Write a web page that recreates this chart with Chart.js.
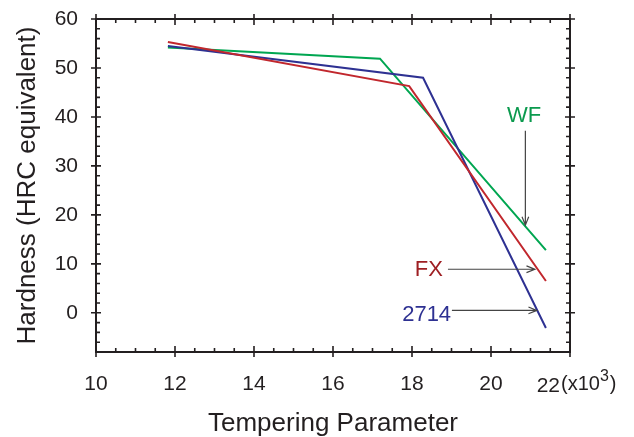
<!DOCTYPE html>
<html>
<head>
<meta charset="utf-8">
<script src="https://cdn.jsdelivr.net/npm/chart.js@4/dist/chart.umd.min.js"></script>
<style>
  body { margin: 0; background: #fff; }
  canvas { display: block; }
</style>
</head>
<body>
<canvas id="hardnessChart" width="634" height="437"></canvas>
<script>
// tempering parameter (x10^3) vs hardness (HRC) for each steel
const temperFX = [11.82, 17.93, 21.39];
const hardFX = [55.3, 46.3, 6.5];
const temper2714 = [11.82, 18.28, 21.39];
const hard2714 = [54.5, 48.0, -3.1];
const temperWF = [11.82, 17.19, 21.39];
const hardWF = [54.2, 51.9, 12.8];

const xTickLabels = [10, 12, 14, 16, 18, 20]; // 22 is drawn together with the multiplier
const yTickLabels = [0, 10, 20, 30, 40, 50, 60];

const FONT = '"Liberation Sans", Arial, Helvetica, sans-serif';
const INK = '#231f20';

function toPoints(xs, ys) {
  return xs.map((v, i) => ({ x: v, y: ys[i] }));
}

function arrow(ctx, x1, y1, x2, y2) {
  const ang = Math.atan2(y2 - y1, x2 - x1);
  const len = 9, spread = 0.38;
  ctx.beginPath();
  ctx.moveTo(x1, y1);
  ctx.lineTo(x2, y2);
  ctx.moveTo(x2 - len * Math.cos(ang - spread), y2 - len * Math.sin(ang - spread));
  ctx.lineTo(x2, y2);
  ctx.lineTo(x2 - len * Math.cos(ang + spread), y2 - len * Math.sin(ang + spread));
  ctx.stroke();
}

// box frame with ticks on all four sides, titles and the series callouts
const framePlugin = {
  id: 'framePlugin',
  afterDraw(chart) {
    const { ctx, chartArea: a, scales: { x, y } } = chart;
    ctx.save();
    ctx.strokeStyle = INK;
    ctx.lineWidth = 2;
    ctx.strokeRect(a.left, a.top, a.right - a.left, a.bottom - a.top);

    ctx.lineWidth = 1.6;
    ctx.beginPath();
    x.ticks.forEach(t => {
      const px = x.getPixelForValue(t.value);
      const major = Number.isInteger(t.value) && t.value % 2 === 0;
      const inner = major ? 6 : 4, outer = major ? 5 : 0;
      ctx.moveTo(px, a.bottom + outer); ctx.lineTo(px, a.bottom - inner);
      ctx.moveTo(px, a.top - outer); ctx.lineTo(px, a.top + inner);
    });
    y.ticks.forEach(t => {
      const py = y.getPixelForValue(t.value);
      const major = t.value % 10 === 0;
      const inner = major ? 5 : 4, outer = major ? 5 : 0;
      ctx.moveTo(a.left - outer, py); ctx.lineTo(a.left + inner, py);
      ctx.moveTo(a.right + outer, py); ctx.lineTo(a.right - inner, py);
    });
    ctx.stroke();

    // last x label with the multiplier
    ctx.fillStyle = INK;
    ctx.textBaseline = 'alphabetic';
    ctx.textAlign = 'right';
    ctx.font = '21px ' + FONT;
    ctx.fillText('22', a.right - 10, 392);
    ctx.textAlign = 'left';
    ctx.font = '20px ' + FONT;
    let cx = a.right - 9;
    ctx.fillText('(x10', cx, 390);
    cx += ctx.measureText('(x10').width;
    ctx.font = '16px ' + FONT;
    ctx.fillText('3', cx, 381);
    cx += ctx.measureText('3').width + 1;
    ctx.font = '20px ' + FONT;
    ctx.fillText(')', cx, 390);

    // axis titles
    ctx.font = '26px ' + FONT;
    ctx.textAlign = 'center';
    ctx.fillText('Tempering Parameter', (a.left + a.right) / 2, 431);
    ctx.save();
    ctx.translate(35, (a.top + a.bottom) / 2);
    ctx.rotate(-Math.PI / 2);
    ctx.fillText('Hardness (HRC equivalent)', 0, 0);
    ctx.restore();

    // callouts
    ctx.font = '22px ' + FONT;
    ctx.fillStyle = '#0b9a4e';
    ctx.textAlign = 'center';
    ctx.fillText('WF', x.getPixelForValue(20.84), y.getPixelForValue(39.0));
    ctx.fillStyle = '#9e1f23';
    ctx.textAlign = 'right';
    ctx.fillText('FX', x.getPixelForValue(18.78), y.getPixelForValue(7.6));
    ctx.fillStyle = '#2e3192';
    ctx.fillText('2714', x.getPixelForValue(18.99), y.getPixelForValue(-1.6));

    ctx.strokeStyle = '#444';
    ctx.lineWidth = 1.2;
    arrow(ctx, x.getPixelForValue(20.87), y.getPixelForValue(37.2),
               x.getPixelForValue(20.87), y.getPixelForValue(17.9));
    arrow(ctx, x.getPixelForValue(18.91), y.getPixelForValue(8.9),
               x.getPixelForValue(21.11), y.getPixelForValue(8.9));
    arrow(ctx, x.getPixelForValue(19.01), y.getPixelForValue(0.5),
               x.getPixelForValue(21.16), y.getPixelForValue(0.5));
    ctx.restore();
  }
};

const lineStyle = { showLine: true, pointRadius: 0, borderWidth: 2, tension: 0, fill: false };

new Chart(document.getElementById('hardnessChart'), {
  type: 'scatter',
  data: {
    datasets: [
      { label: 'FX', data: toPoints(temperFX, hardFX), borderColor: '#c1272d', ...lineStyle },
      { label: '2714', data: toPoints(temper2714, hard2714), borderColor: '#2e3192', ...lineStyle },
      { label: 'WF', data: toPoints(temperWF, hardWF), borderColor: '#00a651', ...lineStyle }
    ]
  },
  options: {
    responsive: false,
    animation: false,
    devicePixelRatio: 1,
    layout: { padding: { left: 0, top: 19, right: 64, bottom: 0 } },
    plugins: { legend: { display: false }, tooltip: { enabled: false } },
    scales: {
      x: {
        type: 'linear', min: 10, max: 22,
        grid: { display: false, drawTicks: false },
        border: { display: false },
        afterFit: s => { s.height = 85; s.paddingLeft = 0; s.paddingRight = 0; },
        ticks: {
          stepSize: 0.5, autoSkip: false, maxRotation: 0, padding: 20,
          color: INK, font: { family: FONT, size: 21 },
          callback: v => xTickLabels.includes(v) ? String(v) : ''
        }
      },
      y: {
        min: -8, max: 60,
        grid: { display: false, drawTicks: false },
        border: { display: false },
        afterFit: s => { s.width = 96; s.paddingTop = 0; s.paddingBottom = 0; },
        ticks: {
          stepSize: 2, autoSkip: false, padding: 18,
          color: INK, font: { family: FONT, size: 21 },
          callback: v => yTickLabels.includes(v) ? String(v) : ''
        }
      }
    }
  },
  plugins: [framePlugin]
});
</script>
</body>
</html>
